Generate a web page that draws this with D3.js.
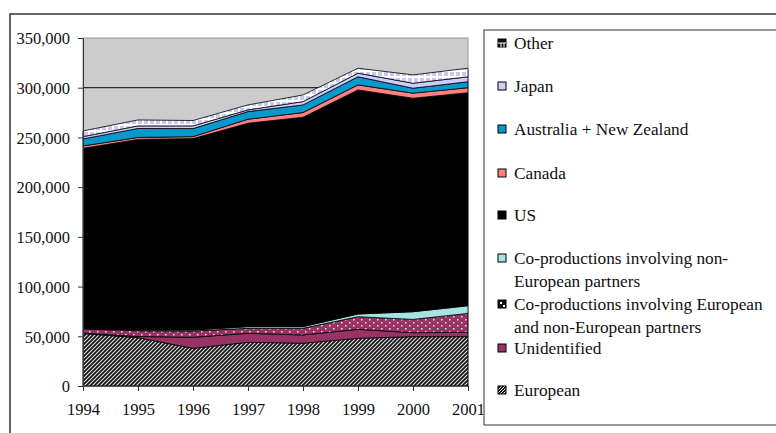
<!DOCTYPE html>
<html>
<head>
<meta charset="utf-8">
<script src="https://cdn.jsdelivr.net/npm/d3@7/dist/d3.min.js"></script>
<style>
  html, body { margin: 0; padding: 0; background: #fff; }
  svg { display: block; }
  text { font-family: "Liberation Serif", "Times New Roman", serif; fill: #111; }
</style>
</head>
<body>
<svg id="chart" width="776" height="433"></svg>
<script>
// ---- Data (films released, by origin) ----
const years = ["1994", "1995", "1996", "1997", "1998", "1999", "2000", "2001"];
const european      = [52800, 48600, 37900, 44000, 43000, 48000, 49600, 49600];
const unidentified  = [500, 1200, 11100, 9000, 8300, 9000, 4000, 4400];
const coprodEuNonEu = [4000, 5800, 6300, 5000, 6700, 12700, 13400, 19000];
const coprodNonEu   = [500, 700, 1000, 1700, 1700, 2700, 7700, 7700];
const us            = [181200, 191700, 192500, 204600, 210600, 225400, 214700, 214300];
const canada        = [2400, 2000, 2000, 4000, 4700, 5000, 5100, 5000];
const ausNz         = [7100, 9000, 8100, 7700, 7700, 8200, 5000, 6000];
const japan         = [2300, 2600, 2700, 1700, 3300, 3600, 5000, 5000];
const other         = [5700, 6000, 5400, 5000, 6700, 5000, 8400, 8600];
const yTicks = [0, 50000, 100000, 150000, 200000, 250000, 300000, 350000];

const seriesNames = ["European", "Unidentified",
  "Co-productions involving European and non-European partners",
  "Co-productions involving non-European partners",
  "US", "Canada", "Australia + New Zealand", "Japan", "Other"];
const seriesValues = [european, unidentified, coprodEuNonEu, coprodNonEu, us, canada, ausNz, japan, other];

// ---- Build table ----
const keys = ["eu", "unid", "coeu", "conon", "us", "ca", "au", "jp", "ot"];
const table = years.map((y, i) => {
  const row = { year: y };
  keys.forEach((k, j) => row[k] = seriesValues[j][i]);
  return row;
});

const svg = d3.select("#chart");
const defs = svg.append("defs");

// Patterns
const hatch = defs.append("pattern").attr("id", "hatch").attr("patternUnits", "userSpaceOnUse")
  .attr("width", 4).attr("height", 4);
hatch.append("rect").attr("width", 4).attr("height", 4).attr("fill", "#e0e0e0");
hatch.append("path").attr("d", "M-1,1 l2,-2 M0,4 l4,-4 M3,5 l2,-2")
  .attr("stroke", "#111").attr("stroke-width", 1.7);

const dots = defs.append("pattern").attr("id", "dots").attr("patternUnits", "userSpaceOnUse")
  .attr("width", 8).attr("height", 6);
dots.append("rect").attr("width", 8).attr("height", 6).attr("fill", "#993366");
dots.append("rect").attr("x", 1).attr("y", 1).attr("width", 1.5).attr("height", 1.5).attr("fill", "#f0e0ee");
dots.append("rect").attr("x", 5).attr("y", 4).attr("width", 1.5).attr("height", 1.5).attr("fill", "#f0e0ee");

const grid = defs.append("pattern").attr("id", "grid").attr("patternUnits", "userSpaceOnUse")
  .attr("width", 6).attr("height", 6);
grid.append("rect").attr("width", 6).attr("height", 6).attr("fill", "#ffffff");
grid.append("rect").attr("x", 0).attr("y", 0).attr("width", 4).attr("height", 4).attr("fill", "#c8c8f4");

const fills = ["url(#hatch)", "#993366", "url(#dots)", "#a6e4e4", "#000000", "#ff8080", "#0899cc", "#ccccff", "url(#grid)"];

// ---- Outer border ----
svg.append("rect").attr("x", 10).attr("y", 14).attr("width", 800).attr("height", 460)
  .attr("fill", "none").attr("stroke", "#333").attr("stroke-width", 1.5);

// ---- Scales ----
const x = d3.scalePoint().domain(years).range([83, 468]);
const y = d3.scaleLinear().domain([0, 350000]).range([386, 38]);

// Plot background
svg.append("rect").attr("x", 83).attr("y", y(350000)).attr("width", 468 - 83).attr("height", y(0) - y(350000))
  .attr("fill", "#cccccc").attr("stroke", "#999").attr("stroke-width", 1);

// Gridlines
svg.append("g").selectAll("line").data(yTicks.filter(d => d > 0 && d < 350000)).join("line")
  .attr("x1", 83).attr("x2", 468).attr("y1", d => y(d)).attr("y2", d => y(d))
  .attr("stroke", "#000").attr("stroke-width", 1);

// ---- Stack ----
const stack = d3.stack().keys(keys);
const layers = stack(table);
const area = d3.area().x(d => x(d.data.year)).y0(d => y(d[0])).y1(d => y(d[1]));

svg.append("g").selectAll("path").data(layers).join("path")
  .attr("d", area)
  .attr("fill", (d, i) => fills[i])
  .attr("stroke", "#000").attr("stroke-width", 0.8).attr("stroke-linejoin", "round");

// ---- Axes ----
const yAxis = d3.axisLeft(y).tickValues(yTicks).tickSize(5).tickSizeOuter(0)
  .tickFormat(d3.format(","));
const gy = svg.append("g").attr("transform", "translate(83,0)").call(yAxis);
gy.select(".domain").attr("stroke", "#333");
gy.selectAll(".tick line").attr("stroke", "#333");
gy.selectAll("text").attr("font-size", 16.5).attr("x", -13).attr("dy", "0.35em")
  .style("font-family", "'Liberation Serif', serif").attr("fill", "#222");

const xAxis = d3.axisBottom(x).tickSize(5).tickSizeOuter(0);
const gx = svg.append("g").attr("transform", `translate(0,${y(0)})`).call(xAxis);
gx.select(".domain").attr("stroke", "#333").attr("d", "M83,0H468");
gx.selectAll(".tick line").attr("stroke", "#333");
gx.selectAll("text").attr("font-size", 16.5).attr("y", 17).attr("dy", "0.71em")
  .style("font-family", "'Liberation Serif', serif").attr("fill", "#222");

// ---- Legend ----
svg.append("rect").attr("x", 484).attr("y", 30).attr("width", 320).attr("height", 395)
  .attr("fill", "#fff").attr("stroke", "#333").attr("stroke-width", 1);

const legendItems = [
  { idx: 8, lines: ["Other"], y: 43 },
  { idx: 7, lines: ["Japan"], y: 86 },
  { idx: 6, lines: ["Australia + New Zealand"], y: 129 },
  { idx: 5, lines: ["Canada"], y: 173 },
  { idx: 4, lines: ["US"], y: 215 },
  { idx: 3, lines: ["Co-productions involving non-", "European partners"], y: 258 },
  { idx: 2, lines: ["Co-productions involving European", "and non-European partners"], y: 304 },
  { idx: 1, lines: ["Unidentified"], y: 348 },
  { idx: 0, lines: ["European"], y: 390 }
];

// small icon patterns
const iconHatch = defs.append("pattern").attr("id", "iconHatch").attr("patternUnits", "userSpaceOnUse")
  .attr("width", 3).attr("height", 3);
iconHatch.append("rect").attr("width", 3).attr("height", 3).attr("fill", "#111");
iconHatch.append("path").attr("d", "M0,3 l3,-3").attr("stroke", "#fff").attr("stroke-width", 1);

const lg = svg.append("g");
legendItems.forEach(it => {
  const g = lg.append("g");
  const ix = 498, iy = it.y - 4;
  let fill = fills[it.idx];
  if (it.idx === 0) fill = "url(#iconHatch)";
  if (it.idx === 2 || it.idx === 8) fill = "#111";
  g.append("rect").attr("x", ix).attr("y", iy).attr("width", 8).attr("height", 8)
    .attr("fill", fill).attr("stroke", "#000").attr("stroke-width", 1);
  if (it.idx === 8) {
    g.append("path").attr("d", `M${ix},${iy + 4}H${ix + 8}M${ix + 3},${iy + 4}V${iy + 8}M${ix + 6},${iy + 4}V${iy + 8}`)
      .attr("stroke", "#fff").attr("stroke-width", 1);
  }
  if (it.idx === 2) {
    g.append("rect").attr("x", ix + 2).attr("y", iy + 2).attr("width", 2).attr("height", 2).attr("fill", "#fff");
    g.append("rect").attr("x", ix + 5).attr("y", iy + 5).attr("width", 2).attr("height", 2).attr("fill", "#fff");
  }
  it.lines.forEach((l, k) => {
    g.append("text").attr("x", 514).attr("y", it.y + k * 23).attr("dy", "0.35em")
      .attr("font-size", 17.3).text(l);
  });
});
</script>
</body>
</html>
